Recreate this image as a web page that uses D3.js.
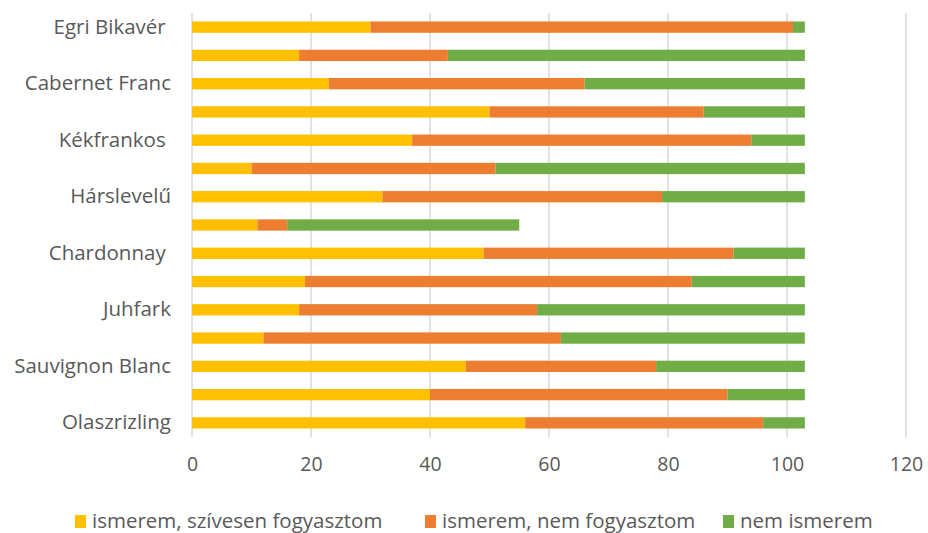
<!DOCTYPE html>
<html>
<head>
<meta charset="utf-8">
<title>bor ismertség</title>
<script src="https://cdnjs.cloudflare.com/ajax/libs/d3/7.8.5/d3.min.js"></script>
<style>
body { margin: 0; background: #fff; }
text { font-family: "Open Sans", "Noto Sans", sans-serif; fill: #595959; }
</style>
</head>
<body>
<svg id="chart" width="928" height="533"></svg>
<script>
// categories from top to bottom, every other label is hidden on the chart
var categories = ["Egri Bikavér ", "", "Cabernet Franc", "", "Kékfrankos ", "", "Hárslevelű", "",
    "Chardonnay ", "", "Juhfark", "", "Sauvignon Blanc", "", "Olaszrizling"];
var szivesen = [30, 18, 23, 50, 37, 10, 32, 11, 49, 19, 18, 12, 46, 40, 56];
var nemFogyaszt = [71, 25, 43, 36, 57, 41, 47, 5, 42, 65, 40, 50, 32, 50, 40];
var nemIsmer = [2, 60, 37, 17, 9, 52, 24, 39, 12, 19, 45, 41, 25, 13, 7];
var seriesNames = ["ismerem, szívesen fogyasztom", "ismerem, nem fogyasztom", "nem ismerem"];
var colors = ["#FFC000", "#ED7D31", "#70AD47"];
var xTicks = [0, 20, 40, 60, 80, 100, 120];

var svg = d3.select("#chart");
var mLeft = 192, mRight = 906, mTop = 13, mBottom = 437;

var x = d3.scaleLinear().domain([0, 120]).range([mLeft, mRight]);
var y = d3.scaleBand().domain(d3.range(categories.length)).range([mTop, mBottom]).paddingInner(0.6).paddingOuter(0.3);

// gridlines
svg.append("g").selectAll("line").data(xTicks).enter().append("line")
    .attr("x1", function(d) { return x(d); }).attr("x2", function(d) { return x(d); })
    .attr("y1", mTop).attr("y2", mBottom)
    .attr("stroke", "#d9d9d9").attr("stroke-width", 1.5);

var rows = categories.map(function(c, i) {
    return { i: i, a: szivesen[i], b: nemFogyaszt[i], c: nemIsmer[i] };
});
var stack = d3.stack().keys(["a", "b", "c"])(rows);

svg.append("g").selectAll("g").data(stack).enter().append("g")
    .attr("fill", function(d, k) { return colors[k]; })
    .selectAll("rect").data(function(d) { return d; }).enter().append("rect")
    .attr("x", function(d) { return x(d[0]); })
    .attr("width", function(d) { return x(d[1]) - x(d[0]); })
    .attr("y", function(d) { return y(d.data.i); })
    .attr("height", y.bandwidth());

// x axis labels
var xAxis = svg.append("g").attr("transform", "translate(0," + mBottom + ")")
    .call(d3.axisBottom(x).tickValues(xTicks).tickSize(0).tickPadding(20));
xAxis.select(".domain").remove();
xAxis.selectAll("text").style("font-size", "19.5px").attr("fill", "#595959");

// category labels
var yAxis = svg.append("g").attr("transform", "translate(" + (mLeft - 21) + ",0)")
    .call(d3.axisLeft(y).tickFormat(function(i) { return categories[i]; }).tickSize(0).tickPadding(0));
yAxis.select(".domain").remove();
yAxis.selectAll("text").style("font-size", "20.5px").style("white-space", "pre").attr("fill", "#595959");

// legend
var legendX = [75, 425, 723];
var legend = svg.append("g").selectAll("g").data(seriesNames).enter().append("g")
    .attr("transform", function(d, k) { return "translate(" + legendX[k] + ",521)"; });
legend.append("rect").attr("x", 0).attr("y", -6).attr("width", 11).attr("height", 13)
    .attr("fill", function(d, k) { return colors[k]; });
legend.append("text").attr("x", 17).attr("dy", "0.35em").style("font-size", "20.5px").text(function(d) { return d; });
</script>
</body>
</html>
